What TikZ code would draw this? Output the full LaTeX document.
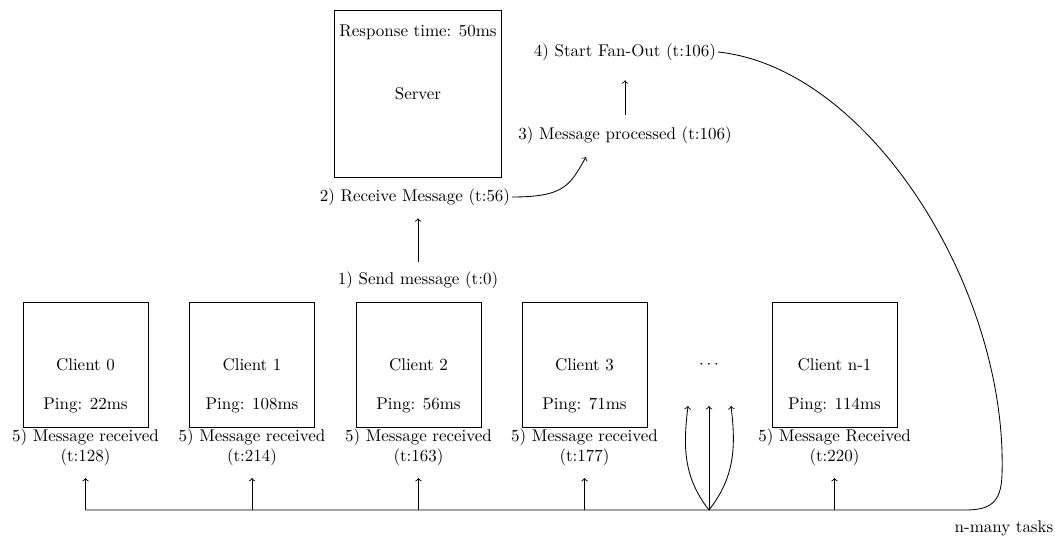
\documentclass[tikz,border=0pt]{standalone}
\begin{document}
\begin{tikzpicture}[x=0.59pt,y=-0.59pt,
  box/.style={draw,line width=0.5pt,minimum width=73.75pt,minimum height=73.75pt,inner sep=0pt},
  bigbox/.style={box,minimum width=98.5pt,minimum height=98.5pt},
  txt/.style={inner sep=1pt,align=center},
  conn/.style={line width=0.5pt},
  arr/.style={conn,->}]
\useasboundingbox (0,0) rectangle (1055,538);

% server side
\node[bigbox] (server) at (418,93.5) {Server};
\node[txt] (resp) at (418,32) {Response time: 50ms};
\node[txt] (recv) at (415,197) {2) Receive Message (t:56)};
\node[txt] (send) at (418,280) {1) Send message (t:0)};
\node[txt] (proc) at (625,135) {3) Message processed (t:106)};
\node[txt] (fan) at (625,52) {4) Start Fan-Out (t:106)};
\coordinate (procin) at (586,157);

\draw[arr,shorten <=4.6pt,shorten >=6.4pt] (send.north) -- (send.north |- recv.south);
\draw[arr] (recv.east) .. controls (565,197) and (570,185) .. (procin);
\draw[arr,shorten <=5.8pt,shorten >=10.5pt] (proc.north -| fan.south) -- (fan.south);

% clients
\node[box] (c0) at (85.5,364.5) {Client 0};
\node[txt] (p0) at (85.5,405) {Ping: 22ms};
\node[txt] (m0) at (85.5,447.5) {5) Message received\\(t:128)};

\node[box] (c1) at (252,364.5) {Client 1};
\node[txt] (p1) at (252,405) {Ping: 108ms};
\node[txt] (m1) at (252,447.5) {5) Message received\\(t:214)};

\node[box] (c2) at (418.5,364.5) {Client 2};
\node[txt] (p2) at (418.5,405) {Ping: 56ms};
\node[txt] (m2) at (418.5,447.5) {5) Message received\\(t:163)};

\node[box] (c3) at (584.5,364.5) {Client 3};
\node[txt] (p3) at (584.5,405) {Ping: 71ms};
\node[txt] (m3) at (584.5,447.5) {5) Message received\\(t:177)};

\node[txt] (dots) at (709,365) {$\cdots$};

\node[box] (cn) at (834.5,364.5) {Client n-1};
\node[txt] (pn) at (834.5,405) {Ping: 114ms};
\node[txt] (mn) at (834.5,447.5) {5) Message Received\\(t:220)};

\node[txt] (tasks) at (1004,528) {n-many tasks};

% bottom distribution line
\coordinate (b0) at (85.5,510);
\coordinate (b1) at (252,510);
\coordinate (b2) at (418.5,510);
\coordinate (b3) at (584.5,510);
\coordinate (bf) at (709,510);
\coordinate (bn) at (834.5,510);
\coordinate (t0) at (85.5,478);
\coordinate (t1) at (252,478);
\coordinate (t2) at (418.5,478);
\coordinate (t3) at (584.5,478);
\coordinate (tn) at (834.5,478);
\coordinate (tfl) at (688,406);
\coordinate (tfm) at (709,406);
\coordinate (tfr) at (731,406);

\draw[conn] (fan.east) .. controls (870,68) and (1008,290) .. (1002,475)
  .. controls (1001,503) and (990,510) .. (965,510) -- (b0);

\draw[arr] (b0) -- (t0);
\draw[arr] (b1) -- (t1);
\draw[arr] (b2) -- (t2);
\draw[arr] (b3) -- (t3);
\draw[arr] (bn) -- (tn);
\draw[arr] (bf) -- (tfm);
\draw[arr] (bf) to[out=128,in=-97] (tfl);
\draw[arr] (bf) to[out=52,in=-83] (tfr);
\end{tikzpicture}
\end{document}
